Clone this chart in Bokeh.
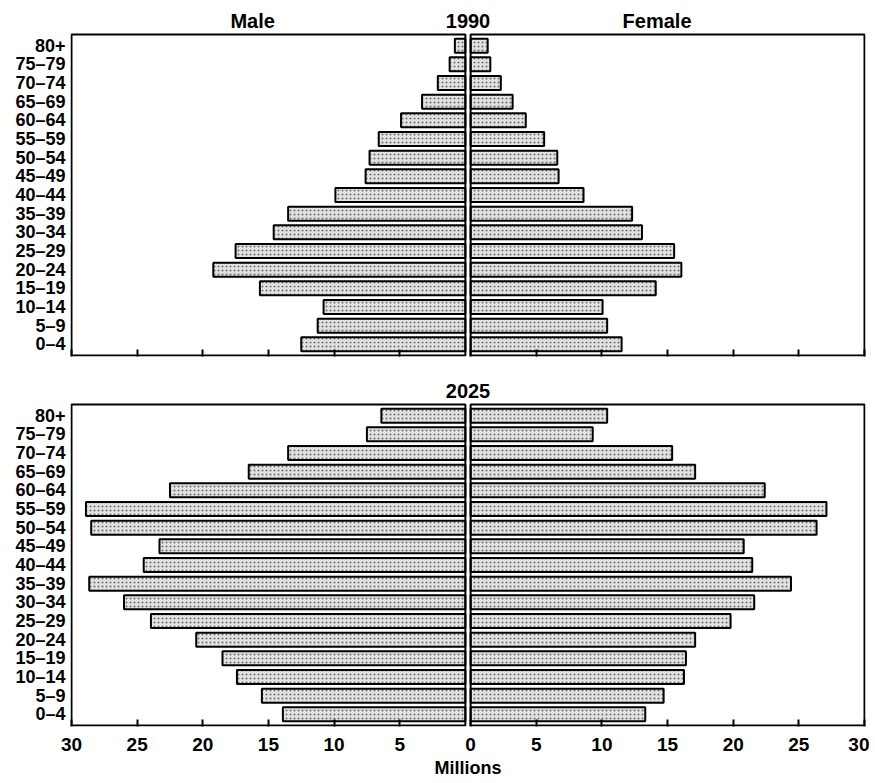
from bokeh.plotting import figure
from bokeh.layouts import column
from bokeh.models import (Range1d, FixedTicker, CustomJSTickFormatter, BoxAnnotation,
                          Label, ColumnDataSource)
from bokeh.embed import file_html
from bokeh.resources import INLINE

# ---------------- data (bottom row first) ----------------
age_groups = ["0–4", "5–9", "10–14", "15–19", "20–24", "25–29", "30–34", "35–39",
              "40–44", "45–49", "50–54", "55–59", "60–64", "65–69", "70–74", "75–79", "80+"]

male_1990 = [12.5, 11.25, 10.8, 15.65, 19.2, 17.5, 14.6, 13.5, 9.9, 7.6, 7.3, 6.6, 4.9, 3.3, 2.1, 1.2, 0.8]
female_1990 = [11.5, 10.4, 10.05, 14.1, 16.05, 15.5, 13.05, 12.3, 8.6, 6.7, 6.6, 5.6, 4.2, 3.2, 2.3, 1.5, 1.3]
male_2025 = [13.9, 15.5, 17.4, 18.5, 20.5, 23.95, 26.0, 28.65, 24.5, 23.3, 28.5, 28.9, 22.5, 16.5, 13.5, 7.5, 6.4]
female_2025 = [13.3, 14.7, 16.25, 16.4, 17.1, 19.8, 21.6, 24.4, 21.45, 20.8, 26.35, 27.1, 22.4, 17.1, 15.35, 9.3, 10.4]

male_ticks = [30, 25, 20, 15, 10, 5]
female_ticks = [0, 5, 10, 15, 20, 25, 30]
xmax = 30

# ---------------- styling ----------------
GAP = 0.2            # half-gap between the male and female boxes (axis units)
PAD = 0.6            # box padding above / below the outer rows (row units)
ROW_PX = 18.66       # pixels per row
X_PX = 13.13         # pixels per million
TITLE_PX = 28        # room above each box for the titles
FONT = "Liberation Sans"
BAR_FILL = "#e2e2e2"

n = len(age_groups)
rows = list(range(n))
box_bottom, box_top = -PAD, n - 1 + PAD


def panel(titles, male, female, show_labels, top_border, bottom_border):
    y0 = box_bottom - 1.0 / ROW_PX
    y1 = box_top + TITLE_PX / ROW_PX
    x1 = xmax + GAP + 1.0 / X_PX
    frame_h = int(round((y1 - y0) * ROW_PX))
    p = figure(
        y_range=Range1d(y0, y1),
        x_range=Range1d(-x1, x1),
        frame_width=795, frame_height=frame_h,
        min_border_left=70, min_border_right=4,
        min_border_top=top_border, min_border_bottom=bottom_border,
        output_backend="svg", toolbar_location=None,
    )
    src = ColumnDataSource(dict(
        age=rows,
        ml=[-(GAP + v) for v in male], mr=[-GAP] * n,
        fl=[GAP] * n, fr=[GAP + v for v in female],
    ))
    common = dict(y="age", height=0.75, fill_color=BAR_FILL, line_color="black",
                  line_width=2, hatch_pattern="dot", hatch_color="#222222",
                  hatch_alpha=0.6, hatch_scale=4, hatch_weight=1, source=src)
    p.hbar(left="ml", right="mr", **common)
    p.hbar(left="fl", right="fr", **common)

    # the two boxes (male / female)
    for l, r in ((-(xmax + GAP), -GAP), (GAP, xmax + GAP)):
        p.add_layout(BoxAnnotation(left=l, right=r, bottom=box_bottom, top=box_top,
                                   fill_alpha=0, fill_color=None,
                                   line_color="black", line_width=2, line_alpha=1))

    p.xgrid.visible = False
    p.ygrid.visible = False
    p.outline_line_color = None
    p.background_fill_color = "white"
    p.border_fill_color = "white"

    ticks = [-(GAP + v) for v in male_ticks] + [GAP + v for v in female_ticks]
    p.xaxis.ticker = FixedTicker(ticks=ticks)
    if show_labels:
        p.xaxis.formatter = CustomJSTickFormatter(
            args=dict(g=GAP), code="return String(Math.round(Math.abs(tick) - g));")
        p.xaxis.axis_label = "Millions"
    else:
        p.xaxis.formatter = CustomJSTickFormatter(code="return '';")
    p.xaxis.axis_line_color = None
    p.xaxis.major_tick_in = 7
    p.xaxis.major_tick_out = 0
    p.xaxis.major_tick_line_width = 2
    p.xaxis.minor_tick_line_color = None
    p.xaxis.major_label_standoff = 11
    p.xaxis.major_label_text_font = FONT
    p.xaxis.major_label_text_font_style = "bold"
    p.xaxis.major_label_text_font_size = "19px"
    p.xaxis.major_label_text_color = "black"
    p.xaxis.axis_label_standoff = 4
    p.xaxis.axis_label_text_font = FONT
    p.xaxis.axis_label_text_font_style = "bold"
    p.xaxis.axis_label_text_font_size = "18px"
    p.xaxis.axis_label_text_color = "black"

    p.yaxis.ticker = FixedTicker(ticks=rows)
    p.yaxis.major_label_overrides = {i: a for i, a in zip(rows, age_groups)}
    p.yaxis.axis_line_color = None
    p.yaxis.major_tick_in = 0
    p.yaxis.major_tick_out = 0
    p.yaxis.minor_tick_line_color = None
    p.yaxis.major_label_standoff = 5
    p.yaxis.major_label_text_font = FONT
    p.yaxis.major_label_text_font_style = "bold"
    p.yaxis.major_label_text_font_size = "18px"
    p.yaxis.major_label_text_color = "black"

    title_y = box_top + 14.0 / ROW_PX
    for txt, x in titles:
        p.add_layout(Label(x=x, y=title_y, text=txt, text_font=FONT, text_font_style="bold",
                           text_font_size="20px", text_color="black",
                           text_align="center", text_baseline="middle"))
    return p


p1 = panel([("Male", -16.4), ("1990", 0.0), ("Female", 14.4)],
           male_1990, female_1990, False, 6, 20)
p2 = panel([("2025", 0.0)], male_2025, female_2025, True, 0, 0)

layout = column(p1, p2, spacing=0)
open("out.html", "w").write(file_html(layout, INLINE))
